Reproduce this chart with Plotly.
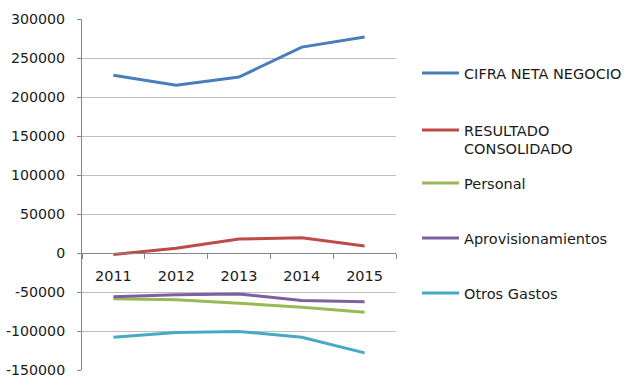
import plotly.graph_objects as go

years = ["2011", "2012", "2013", "2014", "2015"]
cifra = [228000, 215000, 225500, 264000, 277000]
resultado = [-2000, 6000, 18000, 19500, 9000]
personal = [-58500, -60000, -64500, -69500, -76000]
aprov = [-56000, -53500, -52500, -61000, -62500]
otros = [-108000, -102000, -100500, -108000, -128000]
y_ticks = [-150000, -100000, -50000, 0, 50000, 100000, 150000, 200000, 250000, 300000]

series = [
    ("CIFRA NETA NEGOCIO", cifra, "#4A7EBB", 73),
    ("RESULTADO<br>CONSOLIDADO", resultado, "#BE4B48", 139.5),
    ("Personal", personal, "#98B954", 183),
    ("Aprovisionamientos", aprov, "#7D60A0", 238),
    ("Otros Gastos", otros, "#46AAC5", 293),
]

W, H = 640, 386
fig = go.Figure()
layout_legends = {}
for i, (name, vals, col, ypix) in enumerate(series):
    lg = "legend" if i == 0 else f"legend{i+1}"
    fig.add_trace(go.Scatter(x=years, y=vals, mode="lines", name=name,
                             line=dict(color=col, width=3), legend=lg))
    layout_legends[lg] = dict(
        xref="container", yref="container",
        x=417 / W, y=1 - ypix / H, xanchor="left", yanchor="middle",
        valign="top", itemwidth=37, bgcolor="rgba(0,0,0,0)",
        font=dict(family="DejaVu Sans", size=14.5, color="#1a1a1a"),
        tracegroupgap=0,
    )

fig.update_layout(
    width=W, height=H,
    margin=dict(l=82, r=244, t=19, b=16, autoexpand=False),
    plot_bgcolor="white", paper_bgcolor="white",
    showlegend=True,
    font=dict(family="DejaVu Sans", size=14, color="#1a1a1a"),
    xaxis=dict(type="category", range=[-0.5, 4.5], anchor="free", position=1/3,
               automargin=False,
               showgrid=False, showline=True, linecolor="#868686", linewidth=1,
               ticks="outside", tickson="boundaries", ticklen=5, tickcolor="#868686",
               ticklabelstandoff=10, tickfont=dict(size=14.5)),
    yaxis=dict(range=[-150000, 300000], tickvals=y_ticks, automargin=False,
               ticktext=[str(v) for v in y_ticks],
               showgrid=True, gridcolor="#BFBFBF", gridwidth=1,
               zeroline=False, showline=True, linecolor="#868686",
               ticks="outside", ticklen=4, tickcolor="#868686",
               ticklabelstandoff=9, tickfont=dict(size=14.2)),
    **layout_legends,
)

fig.write_html("out.html", config={"displayModeBar": False},
               post_script="document.body.style.margin='0px';document.body.style.padding='0px';")
